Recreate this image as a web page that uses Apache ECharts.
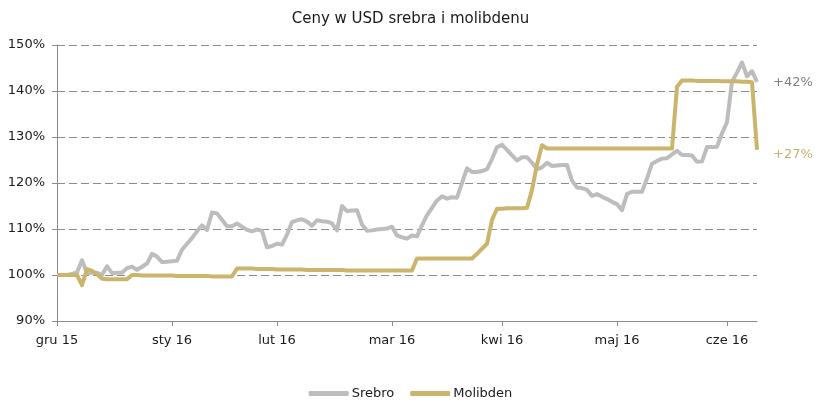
<!DOCTYPE html>
<html>
<head>
<meta charset="utf-8">
<script src="https://cdn.jsdelivr.net/npm/echarts@6/dist/echarts.min.js"></script>
<style>
  html, body { margin: 0; padding: 0; background: #fff; }
  #chart { width: 821px; height: 410px; }
</style>
</head>
<body>
<div id="chart"></div>
<script>
// month tick labels and the category index where each month starts
const monthLabels = ['gru 15', 'sty 16', 'lut 16', 'mar 16', 'kwi 16', 'maj 16', 'cze 16'];
const monthStart = [0, 23, 44, 67, 89, 112, 134];

// silver, % of start level
const srebro = [
  100, 100, 100, 100.2, 100.6, 103.2, 100.4, 100.5, 100.5, 100.0,
  101.9, 100.4, 100.5, 100.5, 101.5, 101.8, 101.1, 101.8, 102.5, 104.6,
  104.0, 102.8, 102.9, 103.0, 103.1, 105.5, 106.8, 108.0, 109.5, 110.8,
  109.8, 113.6, 113.4, 112.0, 110.6, 110.6, 111.2, 110.5, 109.8, 109.5,
  109.9, 109.6, 106.0, 106.3, 106.8, 106.6, 108.8, 111.5, 111.9, 112.1,
  111.6, 110.7, 111.9, 111.7, 111.6, 111.2, 109.7, 115.0, 113.9, 114.0,
  114.1, 111.0, 109.6, 109.7, 109.9, 110.0, 110.1, 110.5, 108.6, 108.2,
  107.9, 108.6, 108.4, 110.8, 113.0, 114.6, 116.2, 117.1, 116.6, 116.9,
  116.8, 120.0, 123.2, 122.4, 122.4, 122.6, 123.0, 125.2, 127.8, 128.3,
  127.2, 126.0, 124.9, 125.6, 125.6, 124.4, 123.0, 123.4, 124.4, 123.7,
  123.8, 123.9, 123.9, 120.5, 119.0, 118.9, 118.5, 117.2, 117.6, 117.0,
  116.5, 115.9, 115.4, 114.1, 117.6, 118.1, 118.1, 118.1, 121.0, 124.2,
  124.8, 125.3, 125.4, 126.2, 127.0, 126.1, 126.1, 126.0, 124.6, 124.7,
  127.8, 127.8, 127.9, 130.8, 133.2, 142.0, 144.0, 146.2, 143.2, 144.3,
  142.0
];

// molybdenum, % of start level
const molibden = [
  100, 100, 100, 100, 100, 97.8, 101.3, 100.9, 100.2, 99.2,
  99.1, 99.1, 99.1, 99.1, 99.1, 100.0, 100.0, 99.9, 99.9, 99.9,
  99.9, 99.9, 99.9, 99.9, 99.8, 99.8, 99.8, 99.8, 99.8, 99.8,
  99.8, 99.7, 99.7, 99.7, 99.7, 99.7, 101.4, 101.4, 101.4, 101.4,
  101.3, 101.3, 101.3, 101.3, 101.2, 101.2, 101.2, 101.2, 101.2, 101.2,
  101.1, 101.1, 101.1, 101.1, 101.1, 101.1, 101.1, 101.1, 101.0, 101.0,
  101.0, 101.0, 101.0, 101.0, 101.0, 101.0, 101.0, 101.0, 101.0, 101.0,
  101.0, 101.0, 103.6, 103.6, 103.6, 103.6, 103.6, 103.6, 103.6, 103.6,
  103.6, 103.6, 103.6, 103.6, 104.6, 105.7, 106.8, 112.0, 114.4, 114.4,
  114.5, 114.5, 114.5, 114.5, 114.6, 118.5, 124.0, 128.2, 127.5, 127.5,
  127.5, 127.5, 127.5, 127.5, 127.5, 127.5, 127.5, 127.5, 127.5, 127.5,
  127.5, 127.5, 127.5, 127.5, 127.5, 127.5, 127.5, 127.5, 127.5, 127.5,
  127.5, 127.5, 127.5, 127.5, 140.9, 142.3, 142.3, 142.3, 142.2, 142.2,
  142.2, 142.2, 142.2, 142.1, 142.1, 142.1, 142.1, 142.0, 142.0, 141.9,
  127.2
];

const endLabels = ['+42%', '+27%'];

const days = srebro.map((_, i) => 'd' + i);
const isMonthStart = (i) => monthStart.indexOf(i) >= 0;

const chart = echarts.init(document.getElementById('chart'));

const font = 'DejaVu Sans';
const grey = '#bdbdbd';
const gold = '#cbb56d';

const option = {
  animation: false,
  textStyle: { fontFamily: font },
  title: {
    text: 'Ceny w USD srebra i molibdenu',
    left: 'center',
    top: 7,
    textStyle: { fontFamily: font, fontSize: 15, fontWeight: 'normal', color: '#1a1a1a' }
  },
  legend: {
    bottom: 5,
    left: 'center',
    itemWidth: 40,
    itemHeight: 5,
    itemGap: 16,
    icon: 'roundRect',
    textStyle: { fontFamily: font, fontSize: 13, color: '#1a1a1a', padding: [0, 0, 0, -2] },
    data: ['Srebro', 'Molibden']
  },
  grid: { left: 57, right: 64, top: 45, bottom: 89 },
  xAxis: {
    type: 'category',
    data: days,
    boundaryGap: false,
    axisLine: { lineStyle: { color: '#8c8c8c', width: 1 } },
    axisTick: {
      show: true,
      length: 5,
      interval: (i) => isMonthStart(i),
      lineStyle: { color: '#8c8c8c' }
    },
    axisLabel: {
      interval: (i) => isMonthStart(i),
      formatter: (v, i) => monthLabels[monthStart.indexOf(i)],
      color: '#1a1a1a',
      fontSize: 13,
      margin: 13
    },
    splitLine: { show: false }
  },
  yAxis: {
    type: 'value',
    min: 90,
    max: 150,
    interval: 10,
    axisLine: { show: true, lineStyle: { color: '#8c8c8c', width: 1 } },
    axisTick: { show: true, length: 5, lineStyle: { color: '#8c8c8c' } },
    axisLabel: { formatter: '{value}%', color: '#1a1a1a', fontSize: 13, margin: 12 },
    splitLine: { lineStyle: { color: '#8c8c8c', type: [8, 4], width: 1 } }
  },
  series: [
    {
      name: 'Srebro',
      type: 'line',
      data: srebro,
      symbol: 'none',
      color: grey,
      lineStyle: { color: grey, width: 4, join: 'round' },
      endLabel: {
        show: true,
        formatter: endLabels[0],
        color: '#7f7f7f',
        fontSize: 13,
        distance: 16,
        offset: [0, 1]
      },
      z: 3
    },
    {
      name: 'Molibden',
      type: 'line',
      data: molibden,
      symbol: 'none',
      color: gold,
      lineStyle: { color: gold, width: 4, join: 'round' },
      endLabel: {
        show: true,
        formatter: endLabels[1],
        color: '#c9b26a',
        fontSize: 13,
        distance: 16,
        offset: [0, 5]
      },
      z: 4
    }
  ]
};

chart.setOption(option);
</script>
</body>
</html>
